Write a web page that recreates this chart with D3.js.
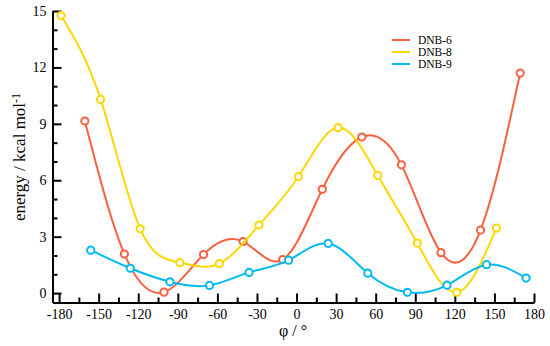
<!DOCTYPE html>
<html>
<head>
<meta charset="utf-8">
<script src="https://cdn.jsdelivr.net/npm/d3@7"></script>
<style>
  body { margin: 0; background: #fff; }
  svg { display: block; }
</style>
</head>
<body>
<script>
// dihedral angles (deg) and relative energies (kcal/mol)
const phi6 = [-160.5, -130.5, -100.5, -70.5, -40.5, -10.5, 19.5, 49.5, 79.5, 109.5, 139.5, 169.5];
const energy6 = [9.15, 2.08, 0.05, 2.05, 2.74, 1.78, 5.52, 8.3, 6.82, 2.15, 3.35, 11.7];

const phi8 = [-178.5, -148.5, -118.5, -88.5, -58.5, -28.5, 1.5, 31.5, 61.5, 91.5, 121.5, 151.5];
const energy8 = [14.76, 10.3, 3.42, 1.62, 1.57, 3.62, 6.2, 8.8, 6.26, 2.66, 0.04, 3.46];

const phi9 = [-156, -126, -96, -66, -36, -6, 24, 54, 84, 114, 144, 174];
const energy9 = [2.28, 1.32, 0.6, 0.41, 1.1, 1.75, 2.64, 1.06, 0.04, 0.42, 1.51, 0.8];

const seriesNames = ["DNB-6", "DNB-8", "DNB-9"];
const seriesColors = ["#f9603f", "#ffd700", "#00b9f2"];

const xTicks = [-180, -150, -120, -90, -60, -30, 0, 30, 60, 90, 120, 150, 180];
const yTicks = [0, 3, 6, 9, 12, 15];

const width = 550, height = 346;
const serif = "'Liberation Serif', 'Times New Roman', 'DejaVu Serif', serif";

const x = d3.scaleLinear().domain([-185, 180]).range([52.5, 534]);
const y = d3.scaleLinear().domain([-0.5, 15]).range([302.5, 11]);

const svg = d3.select("body").append("svg")
  .attr("width", width)
  .attr("height", height)
  .attr("font-family", serif);

// minor ticks
svg.append("g")
  .attr("transform", `translate(0,${y.range()[0]})`)
  .call(d3.axisBottom(x).tickValues(d3.range(-165, 180, 30)).tickSizeInner(-5).tickSizeOuter(0).tickFormat(""))
  .call(g => g.select(".domain").remove());
svg.append("g")
  .attr("transform", `translate(${x.range()[0]},0)`)
  .call(d3.axisLeft(y).tickValues(d3.range(0, 16).filter(d => d % 3 != 0)).tickSizeInner(-5).tickSizeOuter(0).tickFormat(""))
  .call(g => g.select(".domain").remove());

// major axes
svg.append("g")
  .attr("transform", `translate(0,${y.range()[0]})`)
  .call(d3.axisBottom(x).tickValues(xTicks).tickSizeInner(-9).tickSizeOuter(0).tickPadding(7).tickFormat(d => String(d)));
svg.append("g")
  .attr("transform", `translate(${x.range()[0]},0)`)
  .call(d3.axisLeft(y).tickValues(yTicks).tickSizeInner(-9).tickSizeOuter(0).tickPadding(6).tickFormat(d => String(d)));

svg.selectAll("g").attr("font-family", serif);
svg.selectAll(".tick line, .domain").attr("stroke", "#000").attr("stroke-width", 2);
svg.selectAll(".tick text").attr("font-size", 14).attr("fill", "#000");

// axis titles
const yTitle = svg.append("text")
  .attr("transform", "translate(25,157) rotate(-90)")
  .attr("text-anchor", "middle")
  .attr("font-size", 17);
yTitle.append("tspan").text("energy / kcal mol");
yTitle.append("tspan").attr("dy", "-0.45em").attr("font-size", 12).text("-1");

svg.append("text")
  .attr("x", 293)
  .attr("y", 336)
  .attr("text-anchor", "middle")
  .attr("font-size", 16)
  .text("φ / °");

// curves
const allSeries = [
  { phi: phi6, energy: energy6 },
  { phi: phi8, energy: energy8 },
  { phi: phi9, energy: energy9 }
];

const line = d3.line()
  .x(d => x(d[0]))
  .y(d => y(d[1]))
  .curve(d3.curveNatural);

allSeries.forEach((s, i) => {
  const pts = s.phi.map((p, j) => [p, s.energy[j]]);
  const g = svg.append("g");
  g.append("path")
    .datum(pts)
    .attr("fill", "none")
    .attr("stroke", seriesColors[i])
    .attr("stroke-width", 2)
    .attr("d", line);
  g.selectAll("circle")
    .data(pts)
    .join("circle")
    .attr("cx", d => x(d[0]))
    .attr("cy", d => y(d[1]))
    .attr("r", 3.6)
    .attr("fill", "#fff")
    .attr("stroke", seriesColors[i])
    .attr("stroke-width", 2);
});

// legend
const legend = svg.append("g")
  .selectAll("g")
  .data(seriesNames)
  .join("g")
  .attr("transform", (d, i) => `translate(392,${40 + i * 12})`);
legend.append("line")
  .attr("x1", 0).attr("x2", 18)
  .attr("stroke", (d, i) => seriesColors[i])
  .attr("stroke-width", 2);
legend.append("text")
  .attr("x", 26)
  .attr("dy", "0.35em")
  .attr("font-size", 11.5)
  .text(d => d);
</script>
</body>
</html>
